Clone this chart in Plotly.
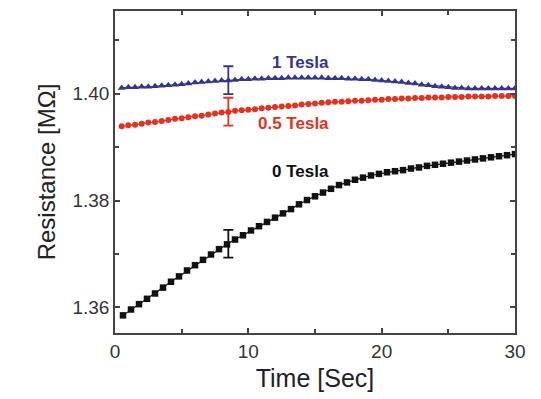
import plotly.graph_objects as go

t_0T = [0.6, 1.2, 1.8, 2.4, 3.0, 3.6, 4.2, 4.8, 5.4, 6.0, 6.6, 7.2, 7.8, 8.4, 9.0, 9.6, 10.2, 10.8, 11.4, 12.0,
        12.6, 13.2, 13.8, 14.4, 15.0, 15.6, 16.2, 16.8, 17.4, 18.0, 18.6, 19.2, 19.8, 20.4, 21.0, 21.6, 22.2, 22.8,
        23.4, 24.0, 24.6, 25.2, 25.8, 26.4, 27.0, 27.6, 28.2, 28.8, 29.4, 30.0]
r_0T = [1.3585, 1.3596, 1.3606, 1.3616, 1.3626, 1.3637, 1.3648, 1.3658, 1.3669, 1.3679, 1.3689, 1.3699, 1.3709,
        1.3718, 1.3727, 1.3735, 1.3744, 1.3752, 1.3760, 1.3768, 1.3776, 1.3784, 1.3793, 1.3801, 1.3808, 1.3815,
        1.3822, 1.3829, 1.3834, 1.3839, 1.3843, 1.3847, 1.3850, 1.3853, 1.3855, 1.3857, 1.3860, 1.3862, 1.3865,
        1.3867, 1.3869, 1.3871, 1.3873, 1.3875, 1.3877, 1.3879, 1.3881, 1.3883, 1.3885, 1.3887]

t_half = [0.5, 1.0, 1.5, 2.0, 2.5, 3.0, 3.5, 4.0, 4.5, 5.0, 5.5, 6.0, 6.5, 7.0, 7.5, 8.0, 8.5, 9.0, 9.5, 10.0,
          10.5, 11.0, 11.5, 12.0, 12.5, 13.0, 13.5, 14.0, 14.5, 15.0, 15.5, 16.0, 16.5, 17.0, 17.5, 18.0, 18.5, 19.0,
          19.5, 20.0, 20.5, 21.0, 21.5, 22.0, 22.5, 23.0, 23.5, 24.0, 24.5, 25.0, 25.5, 26.0, 26.5, 27.0, 27.5, 28.0,
          28.5, 29.0, 29.5, 30.0]
r_05T = [1.3939, 1.3941, 1.3942, 1.3944, 1.3946, 1.3947, 1.3949, 1.3951, 1.3953, 1.3954, 1.3956, 1.3958, 1.3959,
         1.3961, 1.3963, 1.3965, 1.3966, 1.3968, 1.3969, 1.3970, 1.3971, 1.3973, 1.3974, 1.3975, 1.3976, 1.3977,
         1.3978, 1.3980, 1.3981, 1.3982, 1.3983, 1.3984, 1.3985, 1.3985, 1.3986, 1.3987, 1.3987, 1.3988, 1.3989,
         1.3989, 1.3990, 1.3990, 1.3991, 1.3991, 1.3992, 1.3992, 1.3993, 1.3993, 1.3993, 1.3994, 1.3994, 1.3994,
         1.3995, 1.3995, 1.3995, 1.3995, 1.3996, 1.3996, 1.3996, 1.3996]
r_1T = [1.4011, 1.4012, 1.4012, 1.4013, 1.4013, 1.4014, 1.4015, 1.4016, 1.4017, 1.4018, 1.4019, 1.4021, 1.4022,
        1.4023, 1.4024, 1.4025, 1.4025, 1.4026, 1.4027, 1.4027, 1.4028, 1.4028, 1.4029, 1.4029, 1.4029, 1.4030,
        1.4030, 1.4030, 1.4030, 1.4030, 1.4030, 1.4029, 1.4029, 1.4029, 1.4028, 1.4028, 1.4027, 1.4027, 1.4026,
        1.4025, 1.4024, 1.4023, 1.4022, 1.4020, 1.4019, 1.4017, 1.4016, 1.4014, 1.4013, 1.4012, 1.4011, 1.4011,
        1.4010, 1.4010, 1.4010, 1.4010, 1.4010, 1.4010, 1.4010, 1.4010]

err_t = [8.5]
err_0T = [1.3719]
err_05T = [1.39665]
err_1T = [1.40255]
err_size = 0.0026

labels = ["1 Tesla", "0.5 Tesla", "0 Tesla"]
label_t = [13.9, 13.4, 13.9]
label_r = [1.4059, 1.3944, 1.3855]

BLUE = "#34348e"
RED = "#e5321e"
BLACK = "#111111"
FONT = "Liberation Sans, Arial, sans-serif"

fig = go.Figure()
fig.add_trace(go.Scatter(x=t_half, y=r_1T, mode="lines+markers",
                         line=dict(color=BLUE, width=1.2),
                         marker=dict(symbol="triangle-up", size=7, color=BLUE)))
fig.add_trace(go.Scatter(x=t_half, y=r_05T, mode="lines+markers",
                         line=dict(color=RED, width=1.2),
                         marker=dict(symbol="circle", size=6, color=RED)))
fig.add_trace(go.Scatter(x=t_0T, y=r_0T, mode="lines+markers",
                         line=dict(color=BLACK, width=1.2),
                         marker=dict(symbol="square", size=6.5, color=BLACK)))

for yv, col in [(err_1T, BLUE), (err_05T, RED), (err_0T, BLACK)]:
    fig.add_trace(go.Scatter(x=err_t, y=yv, mode="markers",
                             marker=dict(size=1, color=col, opacity=0),
                             error_y=dict(type="constant", value=err_size, color=col,
                                          thickness=1.8, width=5)))

for txt, tx, ry, col in zip(labels, label_t, label_r, [BLUE, RED, BLACK]):
    fig.add_annotation(x=tx, y=ry, text="<b>" + txt + "</b>", showarrow=False,
                       font=dict(family=FONT, size=17, color=col))

axis_common = dict(showline=True, linecolor="#444", linewidth=1.5, mirror="ticks",
                   ticks="inside", ticklen=5, tickwidth=1.5, tickcolor="#444",
                   showgrid=False, zeroline=False,
                   tickfont=dict(family=FONT, size=19, color="#333"))

fig.update_layout(
    width=533, height=391,
    margin=dict(l=107, r=26, t=1, b=66),
    paper_bgcolor="white", plot_bgcolor="white",
    showlegend=False,
    xaxis=dict(range=[0, 30], tickvals=[0, 10, 20, 30],
               minor=dict(tickvals=[5, 15, 25], ticks="inside", ticklen=4, tickwidth=1.5, tickcolor="#444"),
               title=dict(text="Time [Sec]", font=dict(family=FONT, size=25, color="#222"), standoff=9),
               **axis_common),
    yaxis=dict(range=[1.3552, 1.4155], tickvals=[1.36, 1.38, 1.40], tickformat=".2f",
               minor=dict(tickvals=[1.37, 1.39, 1.41], ticks="inside", ticklen=4, tickwidth=1.5, tickcolor="#444"),
               title=dict(text="Resistance [MΩ]", font=dict(family=FONT, size=24, color="#222"), standoff=10),
               **axis_common),
)

fig.write_html("out.html")
